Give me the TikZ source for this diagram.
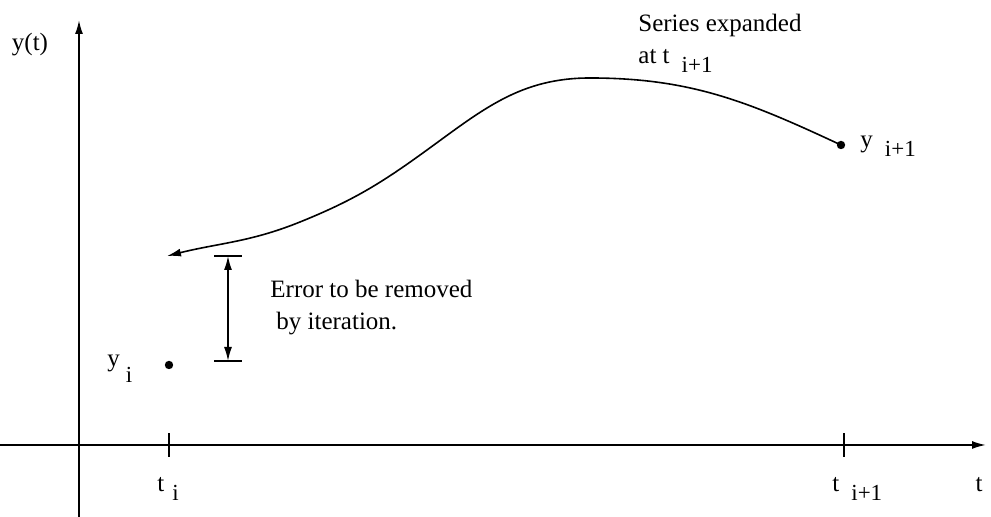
\documentclass[tikz,border=0pt]{standalone}
\usepackage{fontspec}
\setmainfont{Liberation Serif}
\usetikzlibrary{positioning,arrows.meta}
\newcommand{\sublbl}[3][4pt]{#2\hspace{#1}\raisebox{-4.5pt}{\fontsize{11.5}{13}\selectfont #3}}
\newcommand{\ysublbl}[2][4pt]{y\hspace{#1}\raisebox{-8pt}{\fontsize{11.5}{13}\selectfont #2}}

\begin{document}
\begin{tikzpicture}[x=50pt, y=50pt, >={Latex[length=7pt,width=4pt]},
    axis/.style={->, line width=0.9pt},
    curveline/.style={line width=0.8pt},
    lbl/.style={font=\fontsize{12.5}{16}\selectfont, inner sep=0pt},
    dot/.style={circle, fill=black, inner sep=0pt, minimum size=4.2pt}]
    \useasboundingbox (0,0) rectangle (9.91,5.17);

    % Axes
    \coordinate (origin_x) at (0,0.72);
    \coordinate (xtip) at (9.86,0.72);
    \coordinate (origin_y) at (0.79,0);
    \coordinate (ytip) at (0.79,4.97);
    \draw[axis] (origin_x) -- (xtip);
    \draw[axis] (origin_y) -- (ytip);
    \node[lbl] (ylabel) at (0.30,4.72) {y(t)};
    \node[lbl, anchor=base] (tlabel) at (9.79,0.25) {t};

    % Ticks t_i and t_{i+1}
    \coordinate (ti) at (1.69,0.72);
    \coordinate (tnext) at (8.44,0.72);
    \draw[line width=0.8pt] ([yshift=-6pt]ti) -- ([yshift=6pt]ti);
    \draw[line width=0.8pt] ([yshift=-6pt]tnext) -- ([yshift=6pt]tnext);
    \node[lbl, anchor=base west] (ti_label) at (1.57,0.25) {\sublbl{t}{i}};
    \node[lbl, anchor=base west] (tnext_label) at (8.32,0.25) {\sublbl[6pt]{t}{i+1}};

    % Points y_i and y_{i+1}
    \node[dot] (yi) at (1.69,1.52) {};
    \node[lbl, anchor=base west] (yi_label) at (1.07,1.50) {\ysublbl[3pt]{i}};
    \node[dot] (ynext) at (8.41,3.72) {};
    \node[lbl, anchor=base west] (ynext_label) at (8.60,3.69) {\sublbl[6pt]{y}{i+1}};

    % Series expanded back from t_{i+1}
    \coordinate (series_end) at (1.67,2.61);
    \draw[curveline, ->] (ynext.center)
        to[out=155, in=0] (5.90,4.39)
        to[out=180, in=36] (4.27,3.67)
        to[out=216, in=22] (3.00,2.95)
        to[out=202, in=14] (series_end);
    \node[lbl, anchor=north west, align=left] (series_label) at (6.38,5.03)
        {Series expanded\\at \sublbl[6pt]{t}{i+1}};

    % Error bar
    \coordinate (err_top) at (2.28,2.61);
    \coordinate (err_bot) at (2.28,1.56);
    \draw[line width=0.8pt] ([xshift=-7pt]err_top) -- ([xshift=7pt]err_top);
    \draw[line width=0.8pt] ([xshift=-7pt]err_bot) -- ([xshift=7pt]err_bot);
    \draw[line width=0.8pt, <->] (err_top) -- (err_bot);
    \node[lbl, anchor=north west, align=left] (err_label) at (2.70,2.37)
        {Error to be removed\\\hspace{3pt}by iteration.};
\end{tikzpicture}
\end{document}
